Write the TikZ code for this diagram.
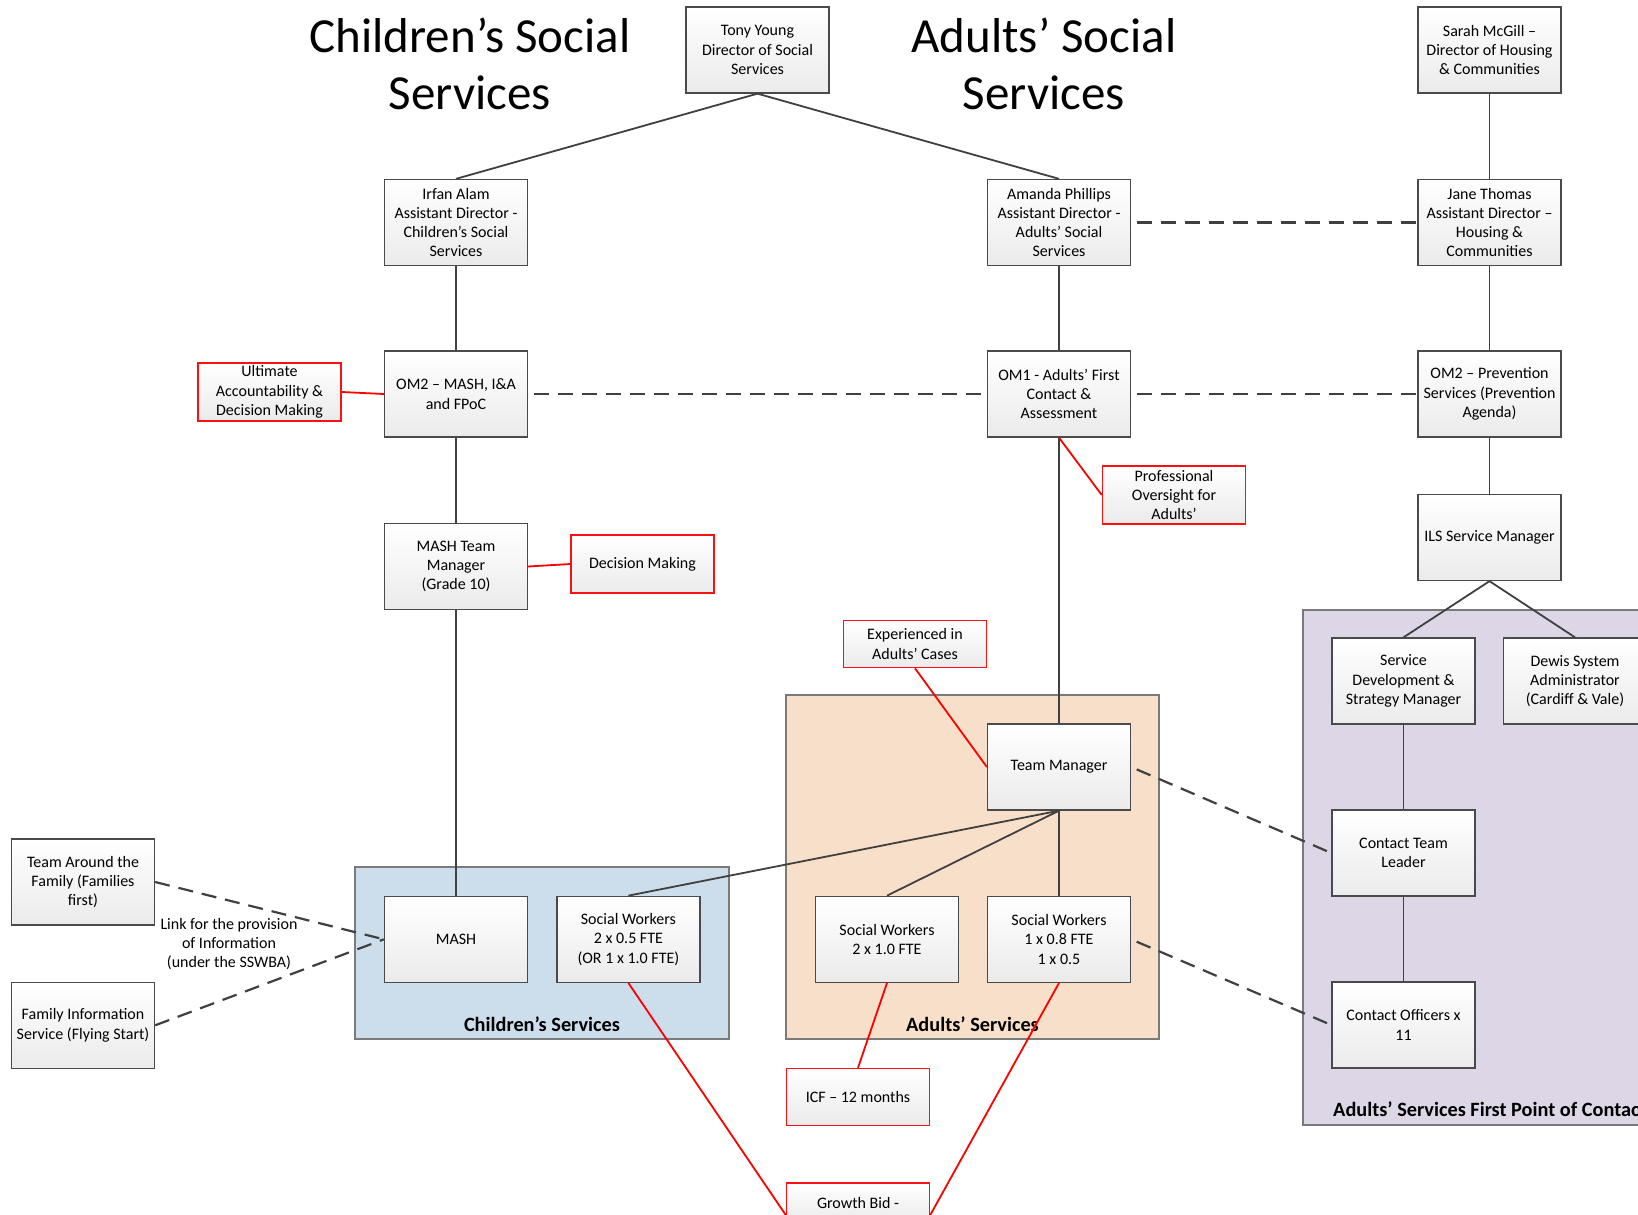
\documentclass[tikz,border=0pt]{standalone}
\usepackage{fontspec}
\setmainfont{Carlito}
\definecolor{linegray}{HTML}{404040}
\definecolor{boxline}{HTML}{4A4A4A}
\definecolor{groupline}{HTML}{7A7A7A}
\definecolor{cblue}{HTML}{CCDDEB}
\definecolor{corange}{HTML}{F8DFC9}
\definecolor{cpurple}{HTML}{DDD6E6}
\definecolor{noteline}{HTML}{FF1010}
\begin{document}
\begin{tikzpicture}[x=1pt,y=-1pt,
  nodefont/.style={font=\fontsize{16}{19.3}\selectfont},
  box/.style={nodefont, draw=boxline, line width=1.3pt, top color=white, bottom color=black!8,
    minimum width=143pt, minimum height=86pt, inner xsep=1pt, inner ysep=2pt, align=center},
  note/.style={box, draw=noteline, line width=1.5pt, minimum height=58pt},
  group/.style={draw=groupline, line width=1.3pt},
  grouplabel/.style={font=\fontsize{20.3}{24}\selectfont\bfseries, inner sep=0pt},
  bigtitle/.style={font=\fontsize{49}{57.5}\selectfont, align=center, inner sep=0pt},
  conn/.style={draw=linegray, line width=1.8pt},
  redlink/.style={draw=red, line width=1.8pt},
  dashlink/.style={draw=linegray, line width=2.2pt, dash pattern=on 15pt off 9pt, dash phase=18pt},
  linklabel/.style={nodefont, align=center, inner sep=0pt}
]
\useasboundingbox (0,0) rectangle (1638,1215);
\clip (0,0) rectangle (1638,1215);
\fill[white] (0,0) rectangle (1638,1215);

% service groups
\draw[group, fill=cblue] (355,867) rectangle (729,1039);
\draw[group, fill=corange] (786,695) rectangle (1159,1039);
\draw[group, fill=cpurple] (1303,610) rectangle (1680,1125);

\node[grouplabel] (lblchild) at (542,1024) {Children’s Services};
\node[grouplabel] (lbladult) at (972.5,1024) {Adults’ Services};
\node[grouplabel, anchor=west] (lblfirst) at (1333,1109) {Adults’ Services First Point of Contact};

% headings
\node[bigtitle] (tchild) at (470,64) {Children’s Social\\Services};
\node[bigtitle] (tadult) at (1044,64) {Adults’ Social\\Services};

% directors
\node[box] (tony) at (757.5,50) {Tony Young\\Director of Social\\Services};
\node[box] (sarah) at (1489.5,50) {Sarah McGill –\\Director of Housing\\\& Communities};

% assistant directors
\node[box] (irfan) at (456,222.5) {Irfan Alam\\Assistant Director -\\Children’s Social\\Services};
\node[box] (amanda) at (1059,222.5) {Amanda Phillips\\Assistant Director -\\Adults’ Social\\Services};
\node[box] (jane) at (1489.5,222.5) {Jane Thomas\\Assistant Director –\\Housing \&\\Communities};

% operational managers
\node[box] (om2m) at (456,394) {OM2 – MASH, I\&A\\and FPoC};
\node[box] (om1) at (1059,394) {OM1 - Adults’ First\\Contact \&\\Assessment};
\node[box] (om2p) at (1489.5,394) {OM2 – Prevention\\Services (Prevention\\Agenda)};

% managers
\node[box] (mashtm) at (456,566.5) {MASH Team\\Manager\\(Grade 10)};
\node[box] (ils) at (1489.5,537.5) {ILS Service Manager};
\node[box] (tm) at (1059,767) {Team Manager};
\node[box] (sdm) at (1403.5,681) {Service\\Development \&\\Strategy Manager};
\node[box] (dewis) at (1575,681) {Dewis System\\Administrator\\(Cardiff \& Vale)};
\node[box] (ctl) at (1403.5,853) {Contact Team\\Leader};
\node[box] (co) at (1403.5,1025) {Contact Officers x\\11};

% teams
\node[box] (mash) at (456,939.3) {MASH};
\node[box] (csw) at (628.4,939.3) {Social Workers\\2 x 0.5 FTE\\(OR 1 x 1.0 FTE)};
\node[box] (sw2) at (887,939.3) {Social Workers\\2 x 1.0 FTE};
\node[box] (sw3) at (1059,939.3) {Social Workers\\1 x 0.8 FTE\\1 x 0.5};

% partner services
\node[box] (taf) at (83,882) {Team Around the\\Family (Families\\first)};
\node[box] (fis) at (83,1025.3) {Family Information\\Service (Flying Start)};
\node[linklabel] (linklbl) at (229,944) {Link for the provision\\of Information\\(under the SSWBA)};

% notes
\node[note] (ult) at (269.5,392) {Ultimate\\Accountability \&\\Decision Making};
\node[note] (dm) at (642.5,564) {Decision Making};
\node[note] (prof) at (1174,495) {Professional\\Oversight for\\Adults’};
\node[note, minimum height=47pt] (exp) at (915,644) {Experienced in\\Adults’ Cases};
\node[note, minimum height=57pt] (icf) at (858,1097) {ICF – 12 months};
\node[note, minimum height=40pt] (gb) at (858,1203) {Growth Bid -};

% reporting lines
\draw[conn] (tony.south) -- (irfan.north);
\draw[conn] (tony.south) -- (amanda.north);
\draw[conn] (sarah) -- (jane);
\draw[conn] (irfan) -- (om2m);
\draw[conn] (om2m) -- (mashtm);
\draw[conn] (mashtm) -- (mash);
\draw[conn] (amanda) -- (om1);
\draw[conn] (om1) -- (tm);
\draw[conn] (jane) -- (om2p);
\draw[conn] (om2p) -- (ils);
\draw[conn] (ils.south) -- (sdm.north);
\draw[conn] (ils.south) -- (dewis.north);
\draw[conn] (sdm) -- (ctl);
\draw[conn] (ctl) -- (co);
\draw[conn] (tm.south) -- (csw.north);
\draw[conn] (tm.south) -- (sw2.north);
\draw[conn] (tm) -- (sw3);

% links between services
\draw[dashlink] (amanda.east) -- (jane.west);
\draw[dashlink] (om2m.east) -- (om1.west);
\draw[dashlink] (om1.east) -- (om2p.west);
\draw[dashlink] (tm.east) -- (ctl.west);
\draw[dashlink] (sw3.east) -- (co.west);
\draw[dashlink, dash phase=0pt] (taf.east) -- (mash.west);
\draw[dashlink, dash phase=0pt] (fis.east) -- (mash.west);

% note connectors
\draw[redlink] (ult.east) -- (om2m.west);
\draw[redlink] (mashtm.east) -- (dm.west);
\draw[redlink] (om1.south) -- (prof.west);
\draw[redlink] (exp.south) -- (tm.west);
\draw[redlink] (sw2.south) -- (icf.north);
\draw[redlink] (csw.south) -- ([yshift=-12pt]gb.west);
\draw[redlink] (sw3.south) -- ([yshift=-12pt]gb.east);
\end{tikzpicture}
\end{document}
